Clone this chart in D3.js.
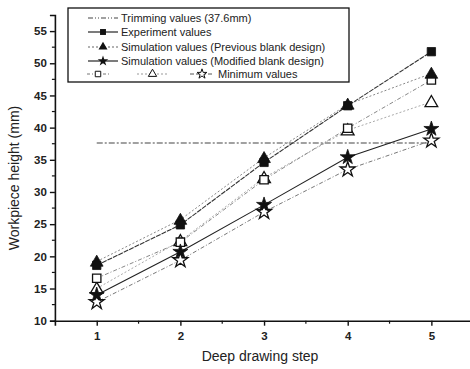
<!DOCTYPE html>
<html><head><meta charset="utf-8">
<script src="https://cdn.jsdelivr.net/npm/d3@7"></script>
<style>body{margin:0;background:#fff;}svg{display:block;font-family:"Liberation Sans",Arial,sans-serif;}</style>
</head><body><svg id="c" width="470" height="369"></svg>
<script>
const steps = [1, 2, 3, 4, 5];
const experiment = [18.6, 24.9, 34.6, 43.4, 51.8];
const simPrevious = [19.2, 25.7, 35.3, 43.6, 48.4];
const simModified = [14.0, 20.7, 28.0, 35.4, 39.8];
const openSquare = [16.6, 22.2, 31.9, 39.9, 47.4];
const openTriangle = [15.0, 22.4, 32.2, 39.6, 44.0];
const minimumValues = [12.9, 19.4, 26.9, 33.5, 38.0];
const trimming = 37.6;
const yTicks = [10, 15, 20, 25, 30, 35, 40, 45, 50, 55];
const xTicks = [1, 2, 3, 4, 5];
const legendLabels = ["Trimming values (37.6mm)", "Experiment values",
  "Simulation values (Previous blank design)", "Simulation values (Modified blank design)", "Minimum values"];

const svg = d3.select("#c");
const x = d3.scaleLinear().domain([0.5, 5.5]).range([54.9, 473.2]);
const y = d3.scaleLinear().domain([10, 57.5]).range([320.7, 15]);

// axes
const xAxis = d3.axisBottom(x).tickValues(xTicks).tickFormat(d3.format("d")).tickSize(5).tickPadding(6);
const gx = svg.append("g").attr("transform", `translate(0,${y(10)})`).call(xAxis);
const yAxis = d3.axisLeft(y).tickValues(yTicks).tickSize(5).tickPadding(3);
const gy = svg.append("g").attr("transform", `translate(${x(0.5)},0)`).call(yAxis);
[gx, gy].forEach(g => {
  g.select(".domain").attr("stroke", "#111").attr("stroke-width", 1.6);
  g.selectAll(".tick line").attr("stroke", "#111").attr("stroke-width", 1.4);
  g.selectAll(".tick text").attr("fill", "#222").attr("font-size", 11.5).attr("font-weight", "bold");
});
// minor ticks
const yMinor = d3.range(12.5, 57.5, 5);
svg.append("g").selectAll("line").data(yMinor).join("line")
  .attr("x1", x(0.5) - 3).attr("x2", x(0.5)).attr("y1", d => y(d)).attr("y2", d => y(d))
  .attr("stroke", "#111").attr("stroke-width", 1.2);
const xMinor = [1.5, 2.5, 3.5, 4.5];
svg.append("g").selectAll("line").data(xMinor).join("line")
  .attr("x1", d => x(d)).attr("x2", d => x(d)).attr("y1", y(10)).attr("y2", y(10) + 3)
  .attr("stroke", "#111").attr("stroke-width", 1.2);

// axis titles
svg.append("text").attr("x", 260).attr("y", 361).attr("text-anchor", "middle")
  .attr("font-size", 14).attr("fill", "#222").text("Deep drawing step");
svg.append("text").attr("transform", "translate(19,178) rotate(-90)").attr("text-anchor", "middle")
  .attr("font-size", 14).attr("fill", "#222").text("Workpiece height (mm)");

// trimming line
svg.append("line").attr("x1", x(1)).attr("x2", x(5)).attr("y1", y(trimming)).attr("y2", y(trimming))
  .attr("stroke", "#444").attr("stroke-width", 1.1).attr("stroke-dasharray", "6,2,2,2");

const line = d3.line().x((d, i) => x(steps[i])).y(d => y(d));
const series = [
  {vals: minimumValues, color: "#777", dash: "4,2,1,2", w: 1, sym: "star", fill: "#fff"},
  {vals: openTriangle, color: "#aaa", dash: "2,2", w: 1, sym: "tri", fill: "#fff"},
  {vals: openSquare, color: "#888", dash: "4,2,1,2", w: 1, sym: "sq", fill: "#fff"},
  {vals: simModified, color: "#222", dash: null, w: 1.1, sym: "star", fill: "#111"},
  {vals: simPrevious, color: "#888", dash: "2,2", w: 1, sym: "tri", fill: "#111"},
  {vals: experiment, color: "#333", dash: "5,1", w: 1.1, sym: "sq", fill: "#111"}
];
const symMap = {star: d3.symbolStar, tri: d3.symbolTriangle, sq: d3.symbolSquare};
const sizeMap = {star: 70, tri: 70, sq: 70};
series.forEach(s => {
  svg.append("path").datum(s.vals).attr("d", line).attr("fill", "none")
    .attr("stroke", s.color).attr("stroke-width", s.w).attr("stroke-dasharray", s.dash);
});
series.forEach(s => {
  svg.append("g").selectAll("path").data(s.vals).join("path")
    .attr("transform", (d, i) => `translate(${x(steps[i])},${y(d) + (s.sym === "tri" ? 1 : 0)})`)
    .attr("d", d3.symbol().type(symMap[s.sym]).size(sizeMap[s.sym]))
    .attr("fill", s.fill).attr("stroke", "#111").attr("stroke-width", s.fill === "#fff" ? 1.3 : 0.8);
});

// legend
const lg = svg.append("g");
lg.append("rect").attr("x", 68).attr("y", 8).attr("width", 281).attr("height", 74)
  .attr("fill", "#fff").attr("stroke", "#111").attr("stroke-width", 1.3);
const rows = [18, 32, 47, 61, 74];
const lgItems = [
  {dash: "5,2,1,2,1,2", color: "#444", sym: null},
  {dash: null, color: "#111", sym: "sq", fill: "#111"},
  {dash: "2,2", color: "#666", sym: "tri", fill: "#111"},
  {dash: null, color: "#111", sym: "star", fill: "#111"}
];
lgItems.forEach((it, i) => {
  lg.append("line").attr("x1", 88).attr("x2", 118).attr("y1", rows[i]).attr("y2", rows[i])
    .attr("stroke", it.color).attr("stroke-width", 1.1).attr("stroke-dasharray", it.dash);
  if (it.sym) lg.append("path").attr("transform", `translate(103,${rows[i]})`)
    .attr("d", d3.symbol().type(symMap[it.sym]).size(35)).attr("fill", it.fill);
  lg.append("text").attr("x", 121).attr("y", rows[i] + 4).attr("font-size", 11).attr("fill", "#222")
    .text(legendLabels[i]);
});
const lastRow = [
  {x1: 87, x2: 109, sym: "sq", dash: "3,2,1,2", color: "#777"},
  {x1: 137, x2: 168, sym: "tri", dash: "2,2", color: "#999"},
  {x1: 190, x2: 214, sym: "star", dash: "4,2", color: "#555"}
];
lastRow.forEach(it => {
  lg.append("line").attr("x1", it.x1).attr("x2", it.x2).attr("y1", rows[4]).attr("y2", rows[4])
    .attr("stroke", it.color).attr("stroke-width", 1).attr("stroke-dasharray", it.dash);
  lg.append("path").attr("transform", `translate(${(it.x1 + it.x2) / 2},${rows[4]})`)
    .attr("d", d3.symbol().type(symMap[it.sym]).size(30)).attr("fill", "#fff")
    .attr("stroke", "#111").attr("stroke-width", 1);
});
lg.append("text").attr("x", 218).attr("y", rows[4] + 4).attr("font-size", 11).attr("fill", "#222")
  .text(legendLabels[4]);
</script></body></html>
